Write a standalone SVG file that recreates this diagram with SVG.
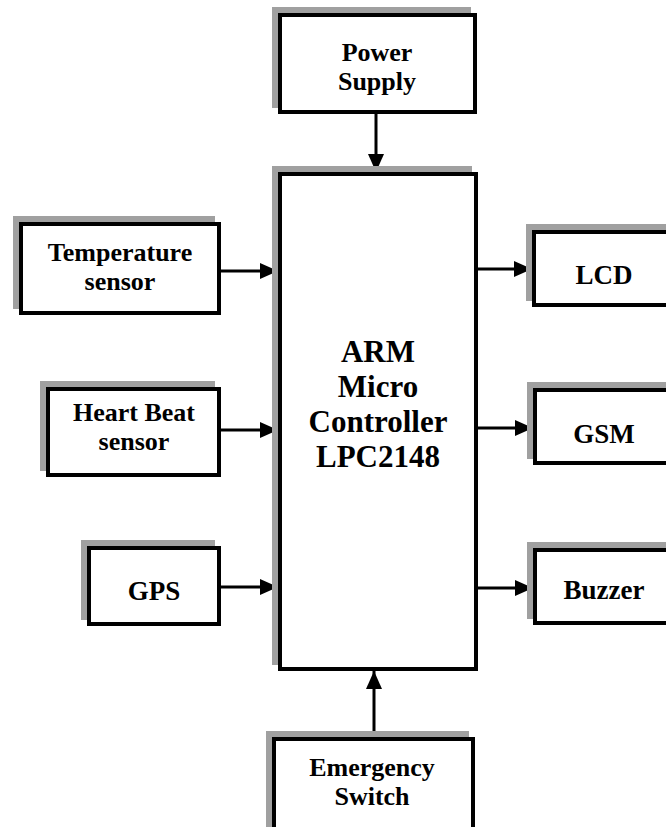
<svg xmlns="http://www.w3.org/2000/svg" width="666" height="827" viewBox="0 0 666 827">
<defs>
<marker id="ah" markerUnits="userSpaceOnUse" markerWidth="18" markerHeight="16" refX="18" refY="8" orient="auto">
<path d="M0,0 L18,8 L0,16 z" fill="#000"/>
</marker>
</defs>
<style>
.sh{fill:#a0a0a0;stroke:none}
.bx{fill:#fff;stroke:#000;stroke-width:4}
.t{font-family:"Liberation Serif","Times New Roman",serif;font-weight:bold;font-size:27px;fill:#000;text-anchor:middle}
.t2{font-size:26px}
.tm{font-size:31px}
.c{stroke:#000;stroke-width:3;fill:none;marker-end:url(#ah)}
</style>
<rect width="666" height="827" fill="#fff"/>
<g id="connectors">
<line class="c" x1="376" y1="114" x2="376" y2="172"/>
<line class="c" x1="221" y1="271" x2="278" y2="271"/>
<line class="c" x1="221" y1="430" x2="278" y2="430"/>
<line class="c" x1="221" y1="587" x2="278" y2="587"/>
<line class="c" x1="478" y1="269" x2="532" y2="269"/>
<line class="c" x1="478" y1="428" x2="533" y2="428"/>
<line class="c" x1="478" y1="588" x2="533" y2="588"/>
<line class="c" x1="374" y1="737" x2="374" y2="671"/>
</g>
<g id="power">
<rect class="sh" x="272" y="7" width="199" height="101"/>
<rect class="bx" x="280" y="15" width="195" height="97"/>
<text class="t t2" x="377" y="61">Power</text>
<text class="t t2" x="377" y="90">Supply</text>
</g>
<g id="main">
<rect class="sh" x="272" y="166" width="200" height="499"/>
<rect class="bx" x="280" y="174" width="196" height="495"/>
<text class="t tm" x="378" y="362">ARM</text>
<text class="t tm" x="378" y="397">Micro</text>
<text class="t tm" x="378" y="432">Controller</text>
<text class="t tm" x="378" y="467">LPC2148</text>
</g>
<g id="temperature">
<rect class="sh" x="13" y="216" width="202" height="93"/>
<rect class="bx" x="21" y="224" width="198" height="89"/>
<text class="t t2" x="120" y="261">Temperature</text>
<text class="t t2" x="120" y="290">sensor</text>
</g>
<g id="heartbeat">
<rect class="sh" x="40" y="381" width="175" height="90"/>
<rect class="bx" x="48" y="389" width="171" height="86"/>
<text class="t t2" x="134" y="421">Heart Beat</text>
<text class="t t2" x="134" y="450">sensor</text>
</g>
<g id="gps">
<rect class="sh" x="81" y="540" width="134" height="80"/>
<rect class="bx" x="89" y="548" width="130" height="76"/>
<text class="t" x="154" y="600">GPS</text>
</g>
<g id="lcd">
<rect class="sh" x="526" y="224" width="204" height="77"/>
<rect class="bx" x="534" y="232" width="200" height="73"/>
<text class="t" x="604" y="284">LCD</text>
</g>
<g id="gsm">
<rect class="sh" x="527" y="382" width="204" height="77"/>
<rect class="bx" x="535" y="390" width="200" height="73"/>
<text class="t" x="604" y="443">GSM</text>
</g>
<g id="buzzer">
<rect class="sh" x="527" y="542" width="204" height="77"/>
<rect class="bx" x="535" y="550" width="200" height="73"/>
<text class="t" x="604" y="599">Buzzer</text>
</g>
<g id="emergency">
<rect class="sh" x="266" y="731" width="203" height="124"/>
<rect class="bx" x="274" y="739" width="199" height="120"/>
<text class="t t2" x="372" y="776">Emergency</text>
<text class="t t2" x="372" y="805">Switch</text>
</g>
</svg>
